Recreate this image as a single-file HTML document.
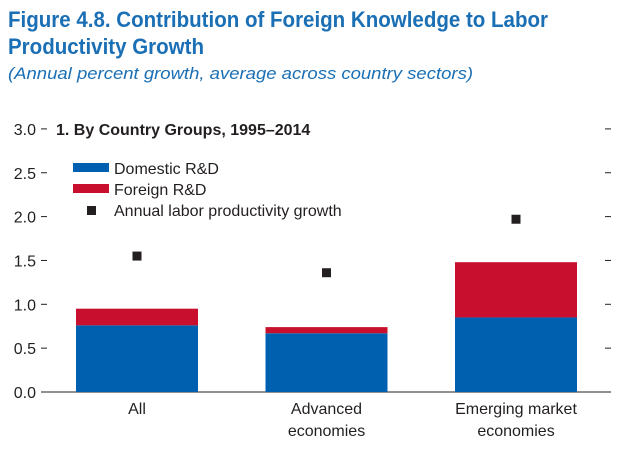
<!DOCTYPE html>
<html><head><meta charset="utf-8"><style>
body{margin:0;background:#fff;width:636px;height:465px;overflow:hidden}
svg text{font-family:"Liberation Sans Narrow","Liberation Sans",sans-serif}
</style></head><body>
<svg width="636" height="465">
<text x="8" y="27" font-size="22" font-weight="bold" fill="#1a6fb5" textLength="540" lengthAdjust="spacingAndGlyphs">Figure 4.8.  Contribution of Foreign Knowledge to Labor</text>
<text x="8" y="54" font-size="22" font-weight="bold" fill="#1a6fb5" textLength="196" lengthAdjust="spacingAndGlyphs">Productivity Growth</text>
<text x="8" y="79" font-size="17" font-style="italic" fill="#1a6fb5" textLength="465" lengthAdjust="spacingAndGlyphs">(Annual percent growth, average across country sectors)</text>
<text x="56" y="135" font-size="16" font-weight="bold" fill="#231f20">1. By Country Groups, 1995–2014</text>
<g id="axes"></g>
<g id="bars"></g>
<rect x="73" y="163" width="36" height="9" fill="#0060b0"/>
<text x="114" y="174" font-size="16" fill="#231f20">Domestic R&amp;D</text>
<rect x="73" y="184" width="36" height="9" fill="#c8102e"/>
<text x="114" y="195" font-size="16" fill="#231f20">Foreign R&amp;D</text>
<rect x="87" y="206" width="9" height="9" fill="#231f20"/>
<text x="114" y="216" font-size="16" fill="#231f20">Annual labor productivity growth</text>
</svg>
<script>
const categories=[["All"],["Advanced","economies"],["Emerging market","economies"]];
const domestic=[0.76,0.67,0.85];
const foreign=[0.19,0.07,0.63];
const growth=[1.55,1.36,1.97];
const ticks=[0,0.5,1.0,1.5,2.0,2.5,3.0];
const NS="http://www.w3.org/2000/svg";
const y=v=>392-v*87.7;
const xc=i=>137+i*189.5;
const bw=122;
function mk(tag,attrs,parent){const e=document.createElementNS(NS,tag);for(const k in attrs)e.setAttribute(k,attrs[k]);parent.appendChild(e);return e;}
const ax=document.getElementById('axes'),bg=document.getElementById('bars');
ticks.forEach(t=>{
 const tx=mk('text',{x:36,y:y(t)+6,'font-size':16,'text-anchor':'end',fill:'#231f20'},ax);tx.textContent=t.toFixed(1);
 
 
 const l=mk('line',{x1:41,x2:47,y1:y(t),y2:y(t),stroke:'#231f20','stroke-width':1},ax);
 
 
 const r=mk('line',{x1:605,x2:611,y1:y(t),y2:y(t),stroke:'#231f20','stroke-width':1},ax);
 
 
});
const base=mk('line',{x1:41,x2:611,y1:392,y2:392,stroke:'#231f20','stroke-width':1},ax);


categories.forEach((c,i)=>{
 const d=mk('rect',{x:xc(i)-bw/2,y:y(domestic[i]),width:bw,height:392-y(domestic[i]),fill:'#0060b0'},bg);
 
 
 const f=mk('rect',{x:xc(i)-bw/2,y:y(domestic[i]+foreign[i]),width:bw,height:y(domestic[i])-y(domestic[i]+foreign[i]),fill:'#c8102e'},bg);
 
 
 const m=mk('rect',{x:xc(i)-4.5,y:y(growth[i])-4.5,width:9,height:9,fill:'#231f20'},bg);
 
 
 c.forEach((s,j)=>{
  const t=mk('text',{x:xc(i),y:414+j*22,'font-size':16,'text-anchor':'middle',fill:'#231f20'},bg);t.textContent=s;
  
  
 });
});
</script>
</body></html>
